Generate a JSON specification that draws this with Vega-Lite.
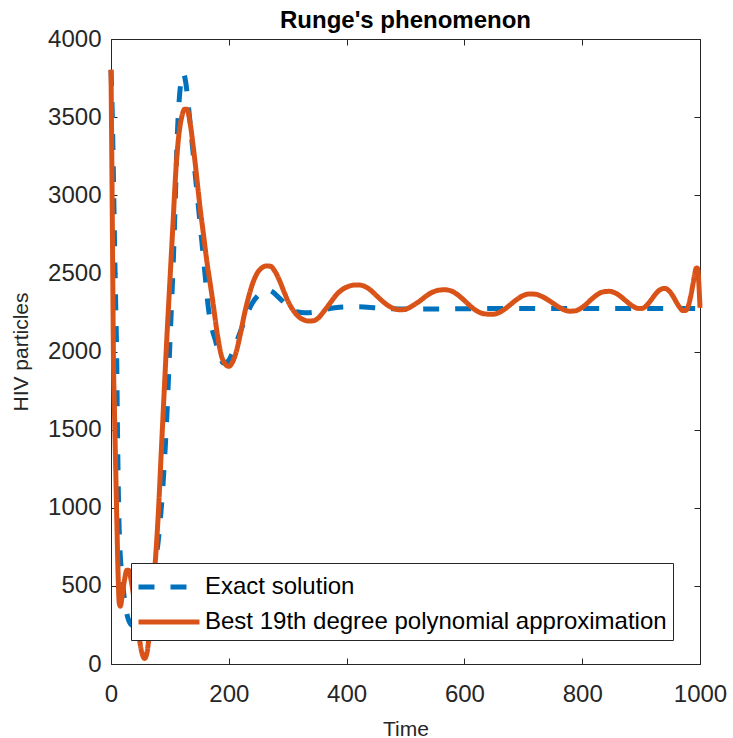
{
  "$schema": "https://vega.github.io/schema/vega-lite/v6.json",
  "width": 589,
  "height": 625,
  "autosize": {"type": "none"},
  "padding": {"left": 111, "top": 39, "right": 33, "bottom": 74},
  "background": "white",
  "title": {"text": "Runge's phenomenon", "font": "Liberation Sans", "fontSize": 24, "fontWeight": "bold", "color": "black", "anchor": "middle", "frame": "group", "baseline": "alphabetic", "offset": -25},
  "datasets": {
    "exact": [
      {"t":0,"v":3800},{"t":2,"v":3550},{"t":4,"v":3150},{"t":6,"v":2700},{"t":8,"v":2300},{"t":9.5,"v":2010},{"t":11,"v":1500},{"t":12.5,"v":1100},{"t":14,"v":850},{"t":16,"v":680},{"t":19,"v":557},{"t":22,"v":440},{"t":25.5,"v":346},{"t":30,"v":280},{"t":35,"v":250},{"t":40,"v":245},{"t":45,"v":260},{"t":50,"v":290},{"t":55,"v":340},{"t":60,"v":400},{"t":65,"v":470},{"t":70,"v":550},{"t":75,"v":650},{"t":80,"v":780},{"t":85,"v":980},{"t":90,"v":1250},{"t":95,"v":1600},{"t":100,"v":2050},{"t":103,"v":2320},{"t":106,"v":2600},{"t":109,"v":2950},{"t":112,"v":3330},{"t":116,"v":3620},{"t":120,"v":3750},{"t":123,"v":3780},{"t":127,"v":3720},{"t":132,"v":3550},{"t":136,"v":3400},{"t":140,"v":3248},{"t":147,"v":2980},{"t":154,"v":2714},{"t":160,"v":2480},{"t":165,"v":2288},{"t":170,"v":2170},{"t":177,"v":2074},{"t":184,"v":1980},{"t":191,"v":1926},{"t":198,"v":1935},{"t":205,"v":1980},{"t":212,"v":2050},{"t":220,"v":2130},{"t":230,"v":2230},{"t":240,"v":2310},{"t":250,"v":2360},{"t":258,"v":2385},{"t":265,"v":2394},{"t":275,"v":2380},{"t":285,"v":2345},{"t":295,"v":2310},{"t":305,"v":2275},{"t":315,"v":2255},{"t":330,"v":2248},{"t":345,"v":2252},{"t":360,"v":2266},{"t":380,"v":2280},{"t":400,"v":2286},{"t":420,"v":2286},{"t":450,"v":2280},{"t":480,"v":2273},{"t":520,"v":2272},{"t":600,"v":2274},{"t":700,"v":2275},{"t":800,"v":2275},{"t":900,"v":2275},{"t":1000,"v":2275}
    ],
    "approx": [
      {"t":0,"v":3804},{"t":1,"v":3400},{"t":2,"v":2950},{"t":3,"v":2480},{"t":4,"v":2010},{"t":6,"v":1600},{"t":8,"v":1250},{"t":10,"v":900},{"t":12,"v":580},{"t":14,"v":390},{"t":16,"v":370},{"t":19,"v":440},{"t":23,"v":540},{"t":27,"v":600},{"t":30,"v":600},{"t":34,"v":540},{"t":40,"v":390},{"t":46,"v":220},{"t":52,"v":80},{"t":57,"v":36},{"t":61,"v":70},{"t":65,"v":190},{"t":70,"v":400},{"t":75,"v":644},{"t":80,"v":940},{"t":85,"v":1330},{"t":90,"v":1720},{"t":95,"v":2100},{"t":100,"v":2450},{"t":105,"v":2800},{"t":110,"v":3150},{"t":115,"v":3380},{"t":120,"v":3500},{"t":125,"v":3550},{"t":129,"v":3550},{"t":134,"v":3470},{"t":140,"v":3300},{"t":146,"v":3100},{"t":151,"v":2927},{"t":157,"v":2750},{"t":163,"v":2570},{"t":169,"v":2420},{"t":174,"v":2288},{"t":181,"v":2100},{"t":188,"v":1966},{"t":194,"v":1920},{"t":200,"v":1905},{"t":206,"v":1930},{"t":212,"v":1990},{"t":219,"v":2100},{"t":226,"v":2230},{"t":233,"v":2340},{"t":240,"v":2430},{"t":248,"v":2500},{"t":256,"v":2535},{"t":264,"v":2548},{"t":271,"v":2545},{"t":278,"v":2515},{"t":286,"v":2455},{"t":294,"v":2380},{"t":302,"v":2310},{"t":310,"v":2260},{"t":318,"v":2225},{"t":326,"v":2205},{"t":335,"v":2195},{"t":344,"v":2197},{"t":352,"v":2215},{"t":362,"v":2260},{"t":372,"v":2310},{"t":382,"v":2360},{"t":392,"v":2395},{"t":402,"v":2415},{"t":412,"v":2425},{"t":420,"v":2426},{"t":430,"v":2418},{"t":440,"v":2395},{"t":450,"v":2360},{"t":460,"v":2325},{"t":470,"v":2295},{"t":480,"v":2275},{"t":488,"v":2268},{"t":496,"v":2268},{"t":505,"v":2278},{"t":515,"v":2300},{"t":525,"v":2325},{"t":535,"v":2355},{"t":545,"v":2378},{"t":556,"v":2392},{"t":566,"v":2395},{"t":576,"v":2390},{"t":586,"v":2370},{"t":596,"v":2340},{"t":606,"v":2305},{"t":616,"v":2272},{"t":626,"v":2250},{"t":636,"v":2240},{"t":647,"v":2238},{"t":658,"v":2248},{"t":668,"v":2270},{"t":678,"v":2300},{"t":688,"v":2330},{"t":698,"v":2355},{"t":710,"v":2368},{"t":720,"v":2367},{"t":730,"v":2355},{"t":740,"v":2335},{"t":750,"v":2310},{"t":760,"v":2285},{"t":770,"v":2266},{"t":779,"v":2258},{"t":788,"v":2260},{"t":797,"v":2275},{"t":806,"v":2300},{"t":816,"v":2335},{"t":826,"v":2365},{"t":836,"v":2382},{"t":846,"v":2385},{"t":856,"v":2375},{"t":866,"v":2350},{"t":876,"v":2318},{"t":886,"v":2290},{"t":894,"v":2276},{"t":901,"v":2275},{"t":908,"v":2290},{"t":916,"v":2325},{"t":924,"v":2365},{"t":932,"v":2395},{"t":940,"v":2404},{"t":947,"v":2390},{"t":954,"v":2355},{"t":960,"v":2315},{"t":966,"v":2280},{"t":971,"v":2262},{"t":975,"v":2262},{"t":980,"v":2290},{"t":984,"v":2350},{"t":988,"v":2430},{"t":991,"v":2495},{"t":994,"v":2535},{"t":996,"v":2530},{"t":998,"v":2440},{"t":1000,"v":2280}
    ]
  },
  "layer": [
    {
      "data": {"name": "exact"},
      "mark": {"type": "line", "strokeWidth": 5, "interpolate": "monotone"},
      "encoding": {
        "x": {"field": "t", "type": "quantitative", "scale": {"domain": [0, 1000], "nice": false, "zero": false},
              "axis": {"orient": "bottom", "values": [0,200,400,600,800,1000], "format": "d", "title": "Time", "titleY": 71, "titleBaseline": "alphabetic", "labelPadding": 24}},
        "y": {"field": "v", "type": "quantitative", "scale": {"domain": [0, 4000], "nice": false},
              "axis": {"orient": "left", "values": [0,500,1000,1500,2000,2500,3000,3500,4000], "format": "d", "title": "HIV particles", "titleX": -80, "labelPadding": 16}},
        "color": {"datum": "Exact solution", "type": "nominal",
                  "scale": {"domain": ["Exact solution", "Best 19th degree polynomial approximation"], "range": ["#0072BD", "#D95319"]}},
        "strokeDash": {"datum": "Exact solution", "type": "nominal",
                  "scale": {"domain": ["Exact solution", "Best 19th degree polynomial approximation"], "range": [[16, 16], [1, 0]]}}
      }
    },
    {
      "data": {"name": "approx"},
      "mark": {"type": "line", "strokeWidth": 5, "interpolate": "monotone"},
      "encoding": {
        "x": {"field": "t", "type": "quantitative", "axis": {"orient": "top", "values": [0,200,400,600,800,1000], "labels": false, "title": null}},
        "y": {"field": "v", "type": "quantitative", "axis": {"orient": "right", "values": [0,500,1000,1500,2000,2500,3000,3500,4000], "labels": false, "title": null}},
        "color": {"datum": "Best 19th degree polynomial approximation", "type": "nominal"},
        "strokeDash": {"datum": "Best 19th degree polynomial approximation", "type": "nominal"}
      }
    }
  ],
  "resolve": {"axis": {"x": "independent", "y": "independent"}},
  "config": {
    "view": {"stroke": "#262626", "strokeWidth": 1},
    "axis": {"domain": false, "grid": false, "tickSize": -6, "tickColor": "#262626", "tickWidth": 1,
             "labelFont": "Liberation Sans", "labelFontSize": 24, "labelColor": "#262626", "labelFlush": false, "labelOverlap": false,
             "titleFont": "Liberation Sans", "titleFontSize": 21, "titleFontWeight": "normal", "titleColor": "#262626"},
    "legend": {"orient": "none", "legendX": 20, "legendY": 524, "title": null, "symbolType": "M-2,0L2,0", "symbolSize": 930, "symbolStrokeWidth": 5, "symbolOffset": 14,
               "labelFont": "Liberation Sans", "labelFontSize": 24, "labelColor": "black", "labelLimit": 0, "labelOffset": 18,
               "fillColor": "white", "strokeColor": "#262626", "padding": 6, "rowPadding": 5}
  }
}
